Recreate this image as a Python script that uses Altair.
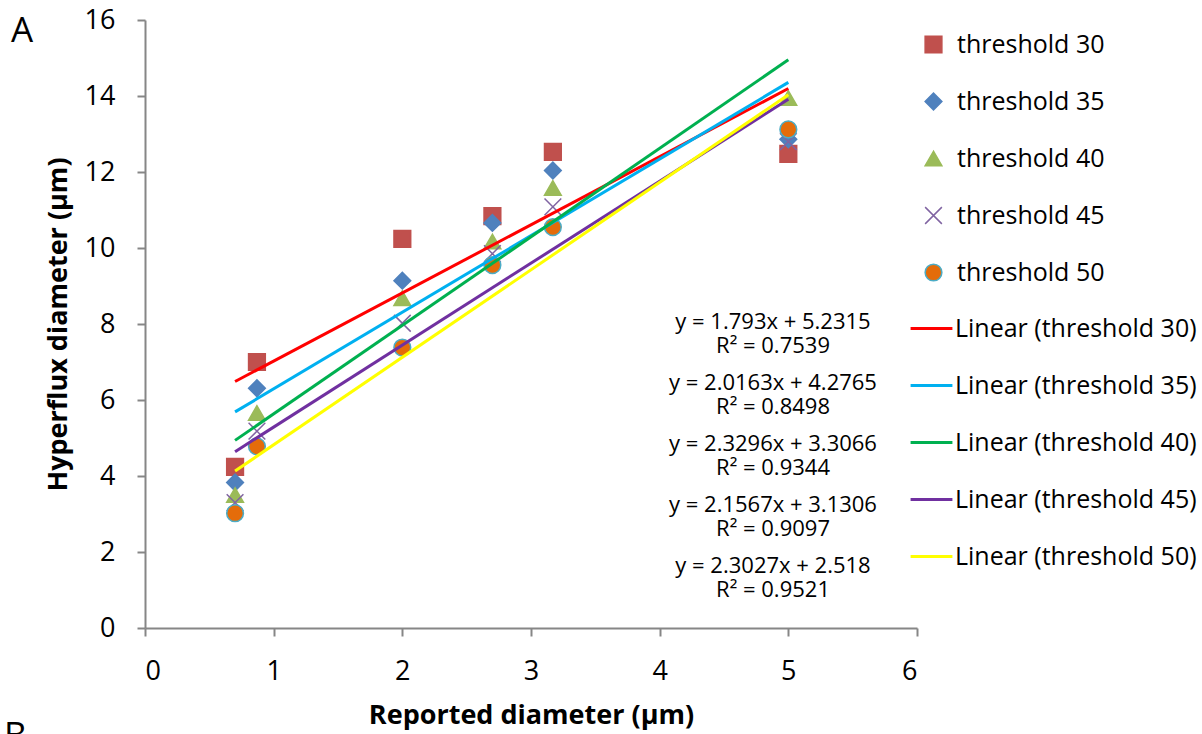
import altair as alt
import pandas as pd

# ---------------- data ----------------
x_vals = [0.7, 0.87, 2.0, 2.7, 3.17, 5.0]
series_names = ["threshold 30", "threshold 35", "threshold 40", "threshold 45", "threshold 50"]
t30 = [4.24, 7.00, 10.24, 10.84, 12.53, 12.48]
t35 = [3.83, 6.31, 9.14, 10.66, 12.04, 12.86]
t40 = [3.50, 5.66, 8.68, 10.17, 11.58, 13.95]
t45 = [3.30, 5.18, 8.02, 9.85, 11.08, 12.80]
t50 = [3.02, 4.78, 7.38, 9.55, 10.55, 13.12]

trend_names = ["Linear (threshold 30)", "Linear (threshold 35)", "Linear (threshold 40)",
               "Linear (threshold 45)", "Linear (threshold 50)"]
slopes = [1.793, 2.0163, 2.3296, 2.1567, 2.3027]
intercepts = [5.2315, 4.2765, 3.3066, 3.1306, 2.518]
eq_labels = ["y = 1.793x + 5.2315", "y = 2.0163x + 4.2765", "y = 2.3296x + 3.3066",
             "y = 2.1567x + 3.1306", "y = 2.3027x + 2.518"]
r2_labels = ["R² = 0.7539", "R² = 0.8498", "R² = 0.9344", "R² = 0.9097", "R² = 0.9521"]
x_ticks = [0, 1, 2, 3, 4, 5, 6]
y_ticks = [0, 2, 4, 6, 8, 10, 12, 14, 16]
panel_labels = ["A", "B"]

# ---------------- tables ----------------
rows = []
for name, ys in zip(series_names, [t30, t35, t40, t45, t50]):
    for xv, yv in zip(x_vals, ys):
        rows.append({"series": name, "x": xv, "y": yv})
pts = pd.DataFrame(rows)

trows = []
for name, s, b in zip(trend_names, slopes, intercepts):
    for xv in (min(x_vals), max(x_vals)):
        trows.append({"trend": name, "slope": s, "intercept": b, "x": xv})
trend = pd.DataFrame(trows)

FONT = "Open Sans"
X_PATH = "M-1,-1L1,1M-1,1L1,-1"

x_enc = alt.X("x:Q", scale=alt.Scale(domain=[0, 6], nice=False),
              axis=alt.Axis(values=x_ticks, format="d", title="Reported diameter (µm)",
                            labelPadding=22, titlePadding=18))
y_enc = alt.Y("y:Q", scale=alt.Scale(domain=[0, 16], nice=False),
              axis=alt.Axis(values=y_ticks, format="d", title="Hyperflux diameter  (µm)",
                            labelPadding=22, titlePadding=12))

leg_pts = alt.Legend(orient="none", legendX=776, legendY=-4, title=None,
                     clipHeight=57, rowPadding=0, labelOffset=11, labelLimit=400,
                     labelFontSize=25, labelFont=FONT, labelColor="black",
                     symbolStrokeWidth=1.5)
leg_lines = alt.Legend(orient="none", legendX=764, legendY=280, title=None,
                       clipHeight=57, rowPadding=0, labelOffset=1, labelLimit=400,
                       labelFontSize=25, labelFont=FONT, labelColor="black",
                       symbolType="stroke", symbolSize=1750, symbolStrokeWidth=3)

points = alt.Chart(pts).mark_point(filled=True, opacity=1, strokeWidth=1.5).encode(
    x=x_enc,
    y=y_enc,
    shape=alt.Shape("series:N", scale=alt.Scale(domain=series_names,
                    range=["square", "diamond", "triangle-up", X_PATH, "circle"]), legend=leg_pts),
    fill=alt.Fill("series:N", scale=alt.Scale(domain=series_names,
                  range=["#C0504D", "#4F81BD", "#9BBB59", "transparent", "#E46C0A"]), legend=leg_pts),
    stroke=alt.Stroke("series:N", scale=alt.Scale(domain=series_names,
                      range=["#C0504D", "#4F81BD", "#9BBB59", "#8064A2", "#4BACC6"]), legend=leg_pts),
    size=alt.Size("series:N", scale=alt.Scale(domain=series_names,
                  range=[280, 280, 270, 230, 190]), legend=leg_pts),
)

lines = alt.Chart(trend).transform_calculate(
    y="datum.slope * datum.x + datum.intercept"
).mark_line(strokeWidth=3).encode(
    x="x:Q",
    y="y:Q",
    color=alt.Color("trend:N", scale=alt.Scale(domain=trend_names,
                    range=["#FF0000", "#00B0F0", "#00B050", "#7030A0", "#FFFF00"]), legend=leg_lines),
)

layers = [points, lines]

for i, (eq, r2) in enumerate(zip(eq_labels, r2_labels)):
    for j, txt in enumerate((eq, r2)):
        t = alt.Chart(pd.DataFrame({"t": [txt]})).mark_text(
            font=FONT, fontSize=22, align="center", baseline="middle", color="black"
        ).encode(x=alt.value(628), y=alt.value(302 + 61 * i + 24 * j), text="t:N")
        layers.append(t)

pa = alt.Chart(pd.DataFrame({"t": [panel_labels[0]]})).mark_text(
    font=FONT, fontSize=35, align="left", baseline="alphabetic", color="black"
).encode(x=alt.value(-134), y=alt.value(22), text="t:N")
pb = alt.Chart(pd.DataFrame({"t": [panel_labels[1]]})).mark_text(
    font=FONT, fontSize=35, align="left", baseline="alphabetic", color="black"
).encode(x=alt.value(-141), y=alt.value(127 + 608 - 8), text="t:N")
layers += [pa, pb]

chart = alt.layer(*layers).resolve_scale(color="independent").properties(
    width=772, height=608,
    autosize=alt.AutoSizeParams(type="none"),
    padding={"left": 145, "top": 20, "right": 285, "bottom": 106},
    background="white",
).configure_view(stroke=None).configure_axis(
    grid=False,
    domainColor="#868686", domainWidth=2,
    tickColor="#868686", tickWidth=2, tickSize=8,
    labelFont=FONT, labelFontSize=27, labelColor="black",
    titleFont=FONT, titleFontSize=27, titleFontWeight="bold", titleColor="black",
)

chart.save("out.html", embed_options={"renderer": "svg", "actions": False})
